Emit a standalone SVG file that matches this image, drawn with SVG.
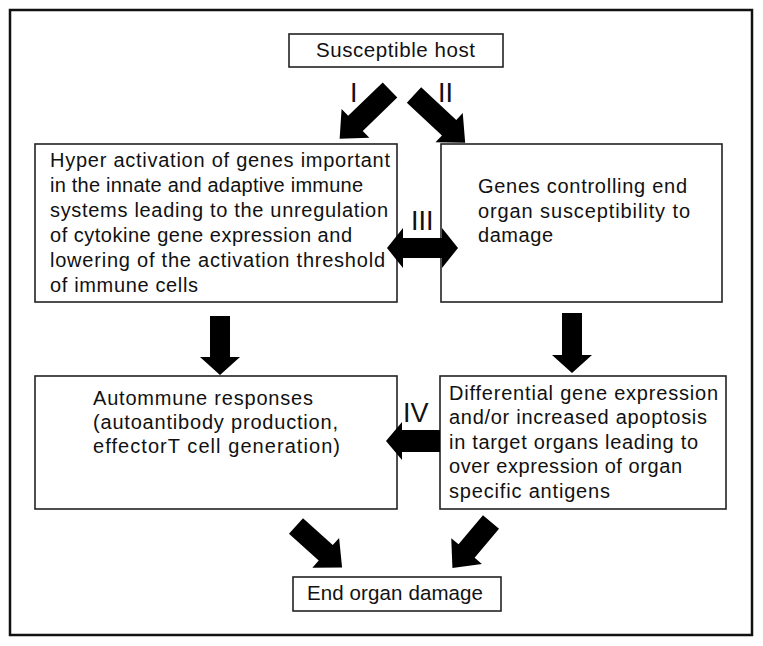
<svg xmlns="http://www.w3.org/2000/svg" width="763" height="646" viewBox="0 0 763 646">
<style>
  .frame{fill:#fff;stroke:#111;stroke-width:2.5}
  .box{fill:#fff;stroke:#222;stroke-width:1.6}
  .t{font-family:"Liberation Sans",Arial,sans-serif;font-size:20px;fill:#111}
  .th{font-family:"Liberation Sans",Arial,sans-serif;font-size:20.5px;fill:#111}
  .num{font-family:"Liberation Sans",Arial,sans-serif;font-size:27px;fill:#111}
  .arrow{fill:#000}
</style>
<defs>
  <polygon id="diag" points="0,-10.5 48,-10.5 48,-20 70,0 48,20 48,10.5 0,10.5"/>
</defs>
<rect class="frame" x="10" y="10" width="742" height="625"/>

<g id="host">
  <rect class="box" x="289" y="34" width="214" height="33"/>
  <text class="th" x="316" y="57" textLength="159" lengthAdjust="spacing">Susceptible host</text>
</g>

<g id="innate">
  <rect class="box" x="35" y="144" width="362" height="158"/>
  <text class="t" x="50" y="167" textLength="340" lengthAdjust="spacing">Hyper activation of genes important</text>
  <text class="t" x="50" y="192" textLength="313" lengthAdjust="spacing">in the innate and adaptive immune</text>
  <text class="t" x="50" y="217" textLength="338" lengthAdjust="spacing">systems leading to the unregulation</text>
  <text class="t" x="50" y="242" textLength="302" lengthAdjust="spacing">of cytokine gene expression and</text>
  <text class="t" x="50" y="267" textLength="335" lengthAdjust="spacing">lowering of the activation threshold</text>
  <text class="t" x="50" y="292" textLength="148" lengthAdjust="spacing">of immune cells</text>
</g>

<g id="endorgan-genes">
  <rect class="box" x="441" y="144" width="281" height="158"/>
  <text class="t" x="478" y="193" textLength="209" lengthAdjust="spacing">Genes controlling end</text>
  <text class="t" x="478" y="218" textLength="212" lengthAdjust="spacing">organ susceptibility to</text>
  <text class="t" x="478" y="242" textLength="75" lengthAdjust="spacing">damage</text>
</g>

<g id="autoimmune">
  <rect class="box" x="35" y="376" width="362" height="133"/>
  <text class="t" x="93" y="405" textLength="220" lengthAdjust="spacing">Autommune responses</text>
  <text class="t" x="93" y="429" textLength="245" lengthAdjust="spacing">(autoantibody production,</text>
  <text class="t" x="93" y="453" textLength="247" lengthAdjust="spacing">effectorT cell generation)</text>
</g>

<g id="differential">
  <rect class="box" x="440" y="376" width="286" height="133"/>
  <text class="t" x="449" y="400" textLength="269" lengthAdjust="spacing">Differential gene expression</text>
  <text class="t" x="449" y="424" textLength="258" lengthAdjust="spacing">and/or increased apoptosis</text>
  <text class="t" x="449" y="449" textLength="249" lengthAdjust="spacing">in target organs leading to</text>
  <text class="t" x="449" y="473" textLength="233" lengthAdjust="spacing">over expression of organ</text>
  <text class="t" x="449" y="498" textLength="161" lengthAdjust="spacing">specific antigens</text>
</g>

<g id="damage">
  <rect class="box" x="293" y="577" width="208" height="34"/>
  <text class="th" x="307" y="600" textLength="176" lengthAdjust="spacing">End organ damage</text>
</g>

<g id="connectors">
  <use href="#diag" class="arrow" transform="translate(390,90) rotate(136)"/>
  <use href="#diag" class="arrow" transform="translate(414,95) rotate(43)"/>
  <polygon class="arrow" points="387,248 403,228 403,238 442,238 442,228 458,248 442,268 442,258 403,258 403,268"/>
  <polygon class="arrow" points="210,316 230,316 230,357 240,357 220,375 200,357 210,357"/>
  <polygon class="arrow" points="562,313 582,313 582,355 592,355 572,373 552,355 562,355"/>
  <polygon class="arrow" points="440,430 402,430 402,422 386,441 402,460 402,452 440,452"/>
  <g transform="translate(296,526) rotate(42)"><polygon class="arrow" points="0,-10.5 40,-10.5 40,-20 62,0 40,20 40,10.5 0,10.5"/></g>
  <g transform="translate(491,522) rotate(130)"><polygon class="arrow" points="0,-10.5 38,-10.5 38,-20 60,0 38,20 38,10.5 0,10.5"/></g>
  <text class="num" x="350" y="102">I</text>
  <text class="num" x="438" y="102">II</text>
  <text class="num" x="411" y="230">III</text>
  <text class="num" x="403" y="422">IV</text>
</g>
</svg>
